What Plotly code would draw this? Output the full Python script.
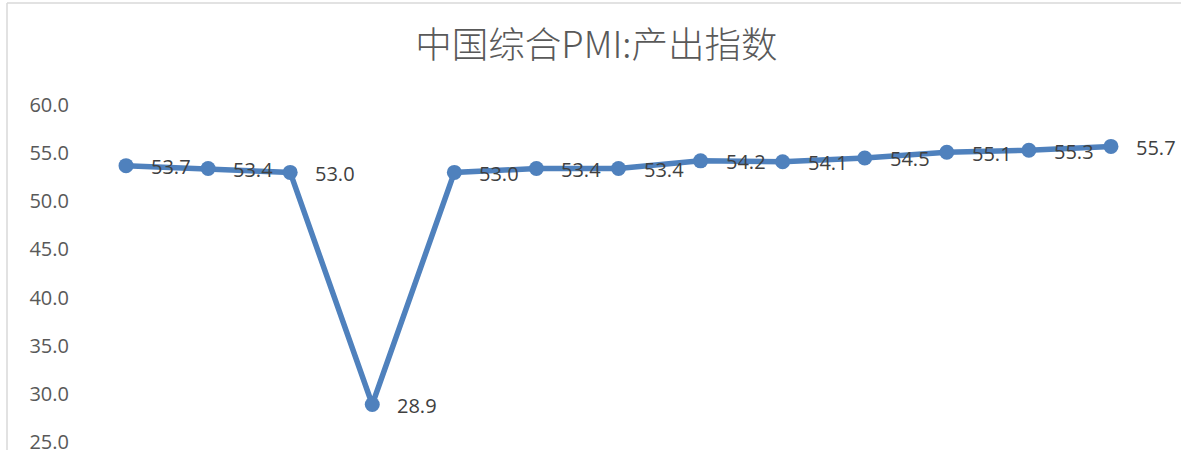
import plotly.graph_objects as go

months = ["2019-11", "2019-12", "2020-01", "2020-02", "2020-03", "2020-04", "2020-05",
          "2020-06", "2020-07", "2020-08", "2020-09", "2020-10", "2020-11"]
values = [53.7, 53.4, 53.0, 28.9, 53.0, 53.4, 53.4, 54.2, 54.1, 54.5, 55.1, 55.3, 55.7]
labels = [f"{v:.1f}" for v in values]
title = "中国综合PMI:产出指数"
ytick_vals = [25, 30, 35, 40, 45, 50, 55, 60]
ytick_text = ["25.0", "30.0", "35.0", "40.0", "45.0", "50.0", "55.0", "60.0"]

W, H = 1181, 450
L, R, T, B = 85, 29, 105, 0
color = "#4F81BD"
font_fam = "Open Sans"
ymax = 60.0
ymin = ymax - (H - T - B) / 9.63

fig = go.Figure()
fig.add_trace(go.Scatter(
    x=months, y=values, mode="lines+markers",
    line=dict(color=color, width=5.5),
    marker=dict(color=color, size=15),
    hoverinfo="x+y",
))
for m, v, t in zip(months, values, labels):
    fig.add_annotation(x=m, y=v, text=t, showarrow=False, xanchor="left",
                       yanchor="middle", xshift=23, yshift=-1,
                       font=dict(family=font_fam, size=20, color="#404040"))

pw = W - L - R
ph = H - T - B
# chart area border (left and top), partially cropped
fig.add_shape(type="line", xref="paper", yref="paper",
              x0=(7 - L) / pw, x1=(7 - L) / pw, y0=-0.1, y1=1 + (T - 3) / ph,
              line=dict(color="#D9D9D9", width=1.5))
fig.add_shape(type="line", xref="paper", yref="paper",
              x0=(7 - L) / pw, x1=1.1, y0=1 + (T - 3) / ph, y1=1 + (T - 3) / ph,
              line=dict(color="#D9D9D9", width=1.5))

fig.update_layout(
    width=W, height=H,
    margin=dict(l=L, r=R, t=T, b=B, autoexpand=False),
    paper_bgcolor="white", plot_bgcolor="white",
    showlegend=False,
    title=dict(text=title, x=0.505, xanchor="center", xref="container",
               y=1 - 45 / H, yanchor="middle", yref="container",
               font=dict(family="Noto Sans CJK SC", size=36.5, color="#595959",
                         weight=300)),
    xaxis=dict(type="category", range=[-0.5, len(months) - 0.5], automargin=False,
               showticklabels=False, showgrid=False, zeroline=False, showline=False,
               ticks=""),
    yaxis=dict(range=[ymin, ymax], tickmode="array", automargin=False,
               tickvals=ytick_vals, ticktext=ytick_text,
               showgrid=False, zeroline=False, showline=False, ticks="",
               ticklabelstandoff=15, ticklabeloverflow="allow",
               tickfont=dict(family=font_fam, size=20, color="#595959")),
)
fig.write_html("out.html", config={"displayModeBar": False},
               post_script="document.body.style.margin='0';document.body.style.overflow='hidden';")
